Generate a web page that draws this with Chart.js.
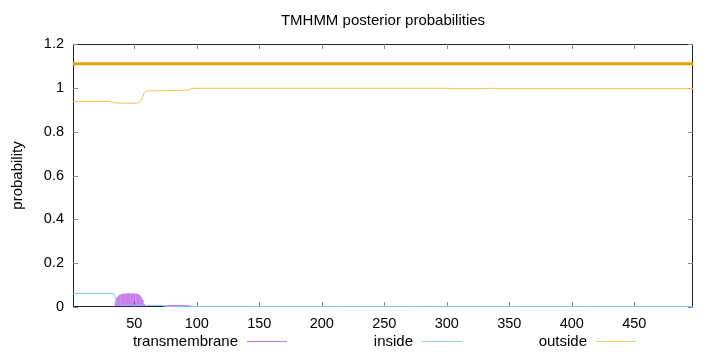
<!DOCTYPE html>
<html>
<head>
<meta charset="utf-8">
<script src="https://cdn.jsdelivr.net/npm/chart.js@4/dist/chart.umd.min.js"></script>
<style>
  html, body { margin: 0; padding: 0; background: #fff; }
  #wrap { width: 720px; height: 352px; position: relative; }
</style>
</head>
<body>
<div id="wrap"><canvas id="c" width="720" height="352"></canvas></div>
<script>
// ---- data ----
const titleText = 'TMHMM posterior probabilities';
const yAxisTitle = 'probability';
const seriesNames = ['transmembrane', 'inside', 'outside'];

const xTicks = [50, 100, 150, 200, 250, 300, 350, 400, 450];
const yTicks = [0, 0.2, 0.4, 0.6, 0.8, 1, 1.2];
const yTickLabels = ['0', '0.2', '0.4', '0.6', '0.8', '1', '1.2'];
const xMin = 1, xMax = 497;

// predicted topology (whole sequence outside)
const topoX = [1, 497];
const topoY = [1.11, 1.11];

// outside posterior (breakpoints)
const outsideX = [1, 30, 34, 52, 54, 56, 58, 60, 75, 92, 95, 97, 300, 304, 330, 333, 338, 341, 497];
const outsideY = [0.938, 0.938, 0.931, 0.930, 0.934, 0.950, 0.978, 0.986, 0.987, 0.989, 0.995, 0.998, 0.998, 0.996, 0.996, 0.998, 0.998, 0.996, 0.996];

// inside posterior (breakpoints)
const insideX = [1, 33, 34, 35, 36, 37, 38, 60, 72, 74, 76, 497];
const insideY = [0.062, 0.062, 0.058, 0.040, 0.018, 0.010, 0.008, 0.008, 0.007, 0.004, 0.002, 0.002];

// transmembrane posterior (impulses, per residue)
const tmX = [34, 35, 36, 37, 38, 39, 40, 41, 42, 43, 44, 45, 46, 47, 48, 49, 50, 51, 52, 53, 54, 55, 56, 57, 58, 59,
             73, 74, 75, 76, 77, 78, 79, 80, 81, 82, 83, 84, 85, 86, 87, 88, 89, 90, 91, 92, 93, 94, 95, 96, 97];
const tmY = [0.004, 0.025, 0.040, 0.048, 0.053, 0.056, 0.058, 0.059, 0.060, 0.060, 0.061, 0.061, 0.061, 0.061, 0.061, 0.061, 0.060, 0.060, 0.059, 0.058, 0.055, 0.050, 0.042, 0.030, 0.012, 0.003,
             0.002, 0.004, 0.006, 0.007, 0.007, 0.008, 0.008, 0.008, 0.008, 0.008, 0.008, 0.008, 0.008, 0.008, 0.008, 0.008, 0.008, 0.008, 0.007, 0.007, 0.007, 0.006, 0.005, 0.003, 0.001];

// ---- styling ----
const FONT = '"Liberation Sans", Arial, Helvetica, sans-serif';
const cTopo = 'rgb(230,160,0)';
const cOut = 'rgb(242,190,85)';
const cIn = 'rgb(125,198,240)';
const cTm = 'rgba(148,0,211,0.42)';
const legendColors = ['rgb(195,125,230)', 'rgb(150,205,240)', 'rgb(244,196,110)'];

const zip = (xs, ys) => xs.map((x, i) => ({ x: x, y: ys[i] }));

const framePlugin = {
  id: 'frame',
  beforeDatasetsDraw(chart) {
    const { ctx, chartArea: a, scales } = chart;
    ctx.save();
    ctx.strokeStyle = '#222';
    ctx.lineWidth = 1;
    ctx.beginPath();
    ctx.rect(Math.round(a.left) + 0.5, Math.round(a.top) + 0.5, Math.round(a.right - a.left) - 1, Math.round(a.bottom - a.top) - 1);
    ctx.stroke();
    ctx.strokeStyle = '#888';
    const tl = 5;
    ctx.beginPath();
    xTicks.forEach(v => {
      const px = Math.round(scales.x.getPixelForValue(v)) + 0.5;
      ctx.moveTo(px, a.bottom); ctx.lineTo(px, a.bottom - tl);
      ctx.moveTo(px, a.top); ctx.lineTo(px, a.top + tl);
    });
    yTicks.forEach(v => {
      const py = Math.round(scales.y.getPixelForValue(v)) + 0.5;
      ctx.moveTo(a.left, py); ctx.lineTo(a.left + tl, py);
      ctx.moveTo(a.right, py); ctx.lineTo(a.right - tl, py);
    });
    ctx.stroke();
    ctx.restore();
  },
  afterDraw(chart) {
    const { ctx, chartArea: a } = chart;
    ctx.save();
    ctx.fillStyle = '#000';
    ctx.font = '15px ' + FONT;
    // title
    ctx.textAlign = 'center';
    ctx.textBaseline = 'alphabetic';
    ctx.fillText(titleText, (a.left + a.right) / 2, 25);
    // y-axis title
    ctx.save();
    ctx.translate(22, (a.top + a.bottom) / 2);
    ctx.rotate(-Math.PI / 2);
    ctx.textAlign = 'center';
    ctx.fillText(yAxisTitle, 0, 0);
    ctx.restore();
    // legend (gnuplot style: text then line sample)
    const textRight = [238, 413, 587];
    ctx.textAlign = 'right';
    ctx.lineWidth = 1;
    seriesNames.forEach((name, i) => {
      ctx.fillStyle = '#000';
      ctx.fillText(name, textRight[i], 346);
      ctx.strokeStyle = legendColors[i];
      ctx.beginPath();
      ctx.moveTo(textRight[i] + 9, 341.5);
      ctx.lineTo(textRight[i] + 49, 341.5);
      ctx.stroke();
    });
    ctx.restore();
  }
};

new Chart(document.getElementById('c'), {
  type: 'line',
  data: {
    datasets: [
      { type: 'bar', label: seriesNames[0], data: zip(tmX, tmY), backgroundColor: cTm, borderWidth: 0, barThickness: 1, order: 3 },
      { type: 'line', label: seriesNames[1], data: zip(insideX, insideY), borderColor: cIn, borderWidth: 1, pointRadius: 0, fill: false, tension: 0, order: 2 },
      { type: 'line', label: seriesNames[2], data: zip(outsideX, outsideY), borderColor: cOut, borderWidth: 1, pointRadius: 0, fill: false, tension: 0, order: 1 },
      { type: 'line', label: 'topology', data: zip(topoX, topoY), borderColor: cTopo, borderWidth: 3, pointRadius: 0, fill: false, order: 0 }
    ]
  },
  options: {
    responsive: false,
    animation: false,
    events: [],
    layout: { padding: { left: 0, right: 27, top: 44, bottom: 0 } },
    plugins: { legend: { display: false }, title: { display: false }, tooltip: { enabled: false } },
    scales: {
      x: {
        type: 'linear', min: xMin, max: xMax, offset: false,
        grid: { display: false, drawTicks: false },
        border: { display: false },
        afterBuildTicks: s => { s.ticks = xTicks.map(v => ({ value: v })); },
        afterFit: s => { s.height = 45; },
        ticks: { color: '#000', padding: 8, maxRotation: 0, autoSkip: false, font: { family: FONT, size: 14.5 }, callback: v => String(v) }
      },
      y: {
        type: 'linear', min: 0, max: 1.2,
        grid: { display: false, drawTicks: false },
        border: { display: false },
        afterBuildTicks: s => { s.ticks = yTicks.map(v => ({ value: v })); },
        afterFit: s => { s.width = 73; },
        ticks: { color: '#000', padding: 9, autoSkip: false, font: { family: FONT, size: 14.5 },
                 callback: (v) => { const i = yTicks.indexOf(v); return i >= 0 ? yTickLabels[i] : ''; } }
      }
    }
  },
  plugins: [framePlugin]
});
</script>
</body>
</html>
